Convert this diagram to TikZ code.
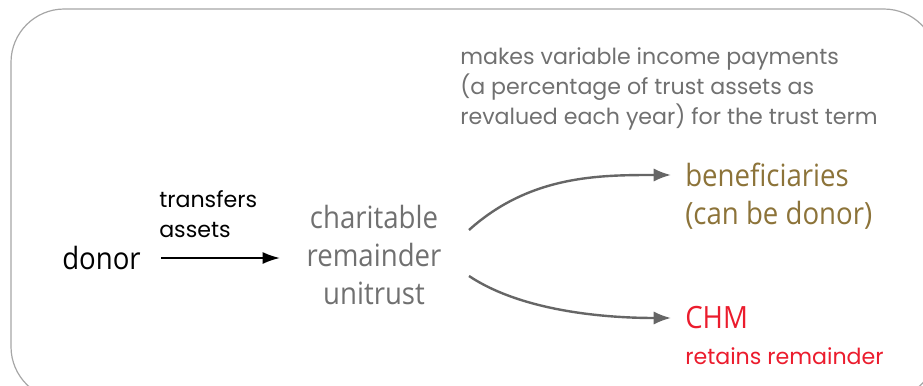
\documentclass[tikz,border=0pt]{standalone}
\usepackage{fontspec}
\usetikzlibrary{arrows.meta}
\setmainfont{Poppins}
\newfontfamily\condfont[FakeStretch=0.9]{Open Sans}
\definecolor{midgray}{HTML}{707070}
\definecolor{arrowgray}{HTML}{666666}
\definecolor{gold}{HTML}{8C7339}
\definecolor{chmred}{HTML}{EB1C2D}

\begin{document}
\begin{tikzpicture}[x=0.75pt, y=-0.75pt,
    big/.style={font=\condfont\fontsize{23}{28.5}\selectfont, inner sep=0, align=center},
    small/.style={font=\fontsize{16.6}{22.5}\selectfont, inner sep=0, align=left},
    flow/.style={-{Latex[length=13pt, width=10pt]}, line width=1.8pt, arrowgray}]
      \useasboundingbox (0,0) rectangle (923,385);
      \clip (0,0) rectangle (923,385);
      % frame around the whole picture
      \draw[gray!70, line width=0.9pt, rounded corners=40pt] (11,9) rectangle (937,400);

      \node[big, anchor=west] (D) at (62,258) {donor};
      \node[small, anchor=west] (T) at (159,214) {transfers\\ assets};
      \node[big, midgray] (CRU) at (374,255) {charitable\\ remainder\\ unitrust};
      \node[small, midgray, anchor=west] (M) at (460,89) {makes variable income payments\\ (a percentage of trust assets as\\ revalued each year) for the trust term};
      \node[big, gold, anchor=west, align=left] (B) at (685,196) {beneficiaries\\ (can be donor)};
      \node[big, chmred, anchor=west] (C) at (685,318) {CHM};
      \node[small, chmred, anchor=west] (CR) at (685,356) {retains remainder};

      \coordinate (D1) at (161,258);
      \coordinate (D2) at (280,258);
      \coordinate (U1) at (469,230);
      \coordinate (U2) at (671,175);
      \coordinate (L1) at (469,276);
      \coordinate (L2) at (671,318);

      \draw[-{Latex[length=13pt, width=9pt]}, line width=1.5pt] (D1) -- (D2);
      \draw[flow] (U1) .. controls (530,175) and (600,175) .. (U2);
      \draw[flow] (L1) .. controls (520,310) and (600,318) .. (L2);
    \end{tikzpicture}
\end{document}
